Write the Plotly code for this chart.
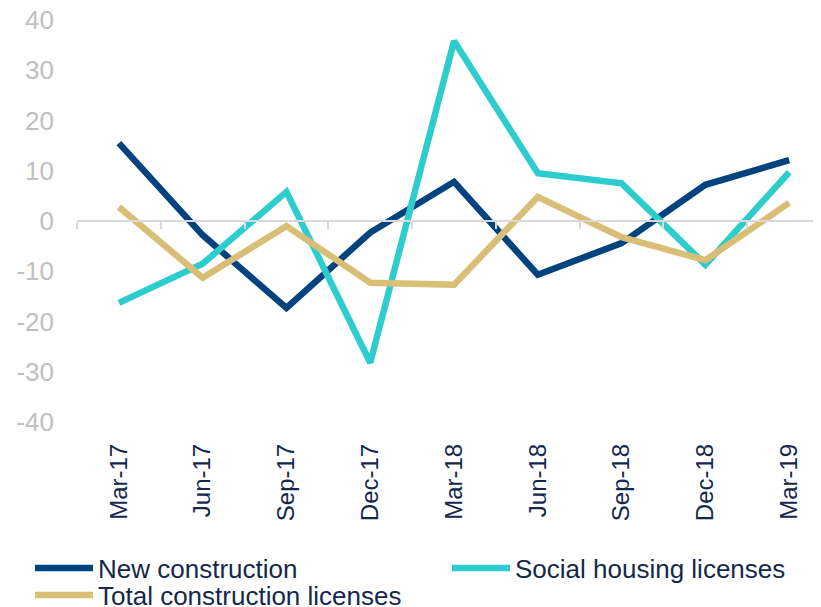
import plotly.graph_objects as go

categories = ["Mar-17", "Jun-17", "Sep-17", "Dec-17", "Mar-18", "Jun-18", "Sep-18", "Dec-18", "Mar-19"]
new_construction = [15.5, -2.8, -17.3, -2.3, 7.8, -10.7, -4.4, 7.2, 12.1]
social_housing = [-16.3, -8.5, 5.8, -28.2, 35.8, 9.5, 7.5, -8.7, 9.7]
total_licenses = [2.8, -11.3, -1.0, -12.3, -12.7, 4.8, -3.2, -7.8, 3.6]
y_ticks = [-40, -30, -20, -10, 0, 10, 20, 30, 40]
y_tick_labels = [str(v) for v in y_ticks]

FONT = "Liberation Sans, Arial, sans-serif"
NAVY = "#00437F"
CYAN = "#2ECDCD"
GOLD = "#D8BE76"
TEXT = "#14284B"

fig = go.Figure()
fig.add_trace(go.Scatter(x=categories, y=new_construction, name="New construction",
                         mode="lines", line=dict(color=NAVY, width=6.5), legend="legend"))
fig.add_trace(go.Scatter(x=categories, y=social_housing, name="Social housing licenses",
                         mode="lines", line=dict(color=CYAN, width=6.5), legend="legend2"))
fig.add_trace(go.Scatter(x=categories, y=total_licenses, name="Total construction licenses",
                         mode="lines", line=dict(color=GOLD, width=6.5), legend="legend3"))
# invisible trace to activate the zero-line axis
fig.add_trace(go.Scatter(x=[0], y=[0], xaxis="x2", mode="markers", marker=dict(opacity=0),
                         showlegend=False, hoverinfo="skip"))

n = len(categories)
W, H = 821, 607
PLOT_L, PLOT_W, PLOT_T, PLOT_H = 69, 744, 12, 402


def px_x(p):
    return (p - PLOT_L) / PLOT_W


def px_y(p):
    return (PLOT_T + PLOT_H - p) / PLOT_H


legend_common = dict(orientation="h", xanchor="left", yanchor="middle",
                     font=dict(family=FONT, size=26, color=TEXT), itemwidth=58,
                     bgcolor="rgba(0,0,0,0)")

fig.update_layout(
    width=W, height=H,
    margin=dict(l=PLOT_L, r=W - PLOT_L - PLOT_W, t=PLOT_T, b=H - PLOT_T - PLOT_H, autoexpand=False),
    plot_bgcolor="white", paper_bgcolor="white",
    font=dict(family=FONT, color=TEXT),
    xaxis=dict(
        type="category", range=[-0.5, 8.38], showgrid=False, showline=False,
        zeroline=False, tickangle=-90, ticks="", ticklabelstandoff=16,
        tickfont=dict(family=FONT, size=24, color=TEXT), automargin=False,
        ticklabeloverflow="allow",
    ),
    xaxis2=dict(
        overlaying="x", anchor="free", position=0.5, range=[-0.5, 8.38],
        showgrid=False, zeroline=False, showline=True, linecolor="#D9D9D9", linewidth=1.5,
        ticks="outside", ticklen=7, tickcolor="#D9D9D9", tickwidth=1.5,
        tickvals=[i - 0.5 for i in range(n)], showticklabels=False, automargin=False,
    ),
    yaxis=dict(
        range=[-40, 40], tickvals=y_ticks, ticktext=y_tick_labels, showgrid=False,
        zeroline=False, showline=False, ticks="", ticklabelstandoff=22, automargin=False,
        tickfont=dict(family=FONT, size=26, color="#BFBFBF"), ticklabeloverflow="allow",
    ),
    legend=dict(x=px_x(22), y=px_y(560), **legend_common),
    legend2=dict(x=px_x(439), y=px_y(560), **legend_common),
    legend3=dict(x=px_x(22), y=px_y(587), **legend_common),
    showlegend=True,
)

fig.write_html("out.html")
